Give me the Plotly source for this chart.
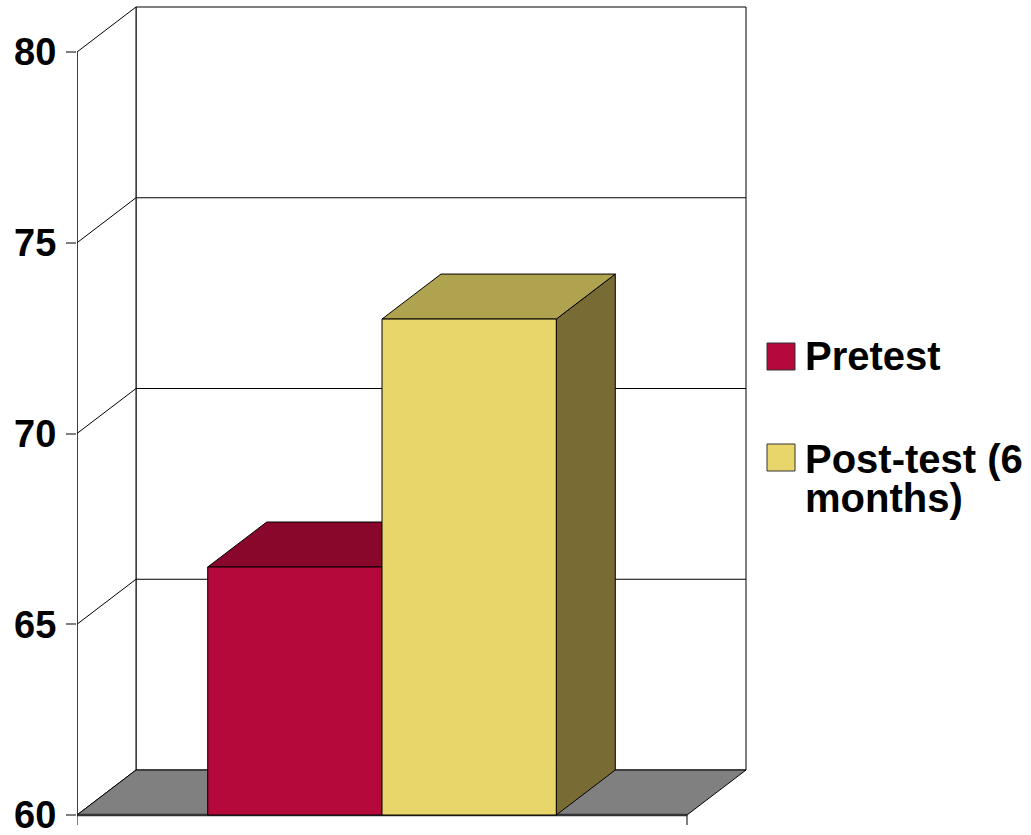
import plotly.graph_objects as go

# ---- data ----
series = ["Pretest", "Post-test (6 months)"]
legend_lines = [["Pretest"], ["Post-test (6", "months)"]]
values = [66.5, 73.0]
y_ticks = [60, 65, 70, 75, 80]
y_min, y_max = 60, 80

# ---- style ----
front_colors = ["#B4093A", "#E9D66B"]
top_colors = ["#88072A", "#B0A34F"]
side_colors = ["#5E041D", "#786C34"]
floor_color = "#808080"
gap = 1.5            # gap width (fraction of a bar width)
DX = 59 / 610        # depth offset, x units (category span = 1)
DY = 45 / 38.15      # depth offset, y units
EXT = 10 / 38.15     # small axis extension below floor

W, H = 1031, 835
ML, MR, MT, MB = 77, 271, 2, 5
PW, PH = W - ML - MR, H - MT - MB
x_range = [0, PW / 610]
y_range = [y_min - (830 - 815) / 38.15, y_min + (815 - MT) / 38.15]

traces = []


def poly(xs, ys, fill, lc="black", lw=1):
    traces.append(go.Scatter(
        x=list(xs) + [xs[0]], y=list(ys) + [ys[0]], mode="lines",
        fill="toself", fillcolor=fill, line=dict(color=lc, width=lw),
        hoverinfo="skip", showlegend=False))


def line(xs, ys, lc="black", lw=1):
    traces.append(go.Scatter(
        x=xs, y=ys, mode="lines", line=dict(color=lc, width=lw),
        hoverinfo="skip", showlegend=False))


# back wall
poly([DX, 1 + DX, 1 + DX, DX],
     [y_min + DY, y_min + DY, y_max + DY, y_max + DY], "white")
# left wall
poly([0, DX, DX, 0], [y_min, y_min + DY, y_max + DY, y_max], "white")
# gridlines (left wall diagonal + back wall horizontal)
gx, gy = [], []
for t in y_ticks[1:-1]:
    gx += [0, DX, 1 + DX, None]
    gy += [t, t + DY, t + DY, None]
line(gx, gy)
# floor
poly([0, 1, 1 + DX, DX], [y_min, y_min, y_min + DY, y_min + DY], floor_color)
line([0, 1], [y_min, y_min], "#333333", 2.5)
# front axis + end ticks
line([0, 0], [y_min - EXT, y_max])
line([1, 1], [y_min, y_min - EXT])

# bars
bar_w = 1 / (len(values) + gap)
x_start = gap / 2 * bar_w
for i, v in enumerate(values):
    xl = x_start + i * bar_w
    xr = xl + bar_w
    poly([xr, xr + DX, xr + DX, xr], [y_min, y_min + DY, v + DY, v], side_colors[i])
    poly([xl, xr, xr + DX, xl + DX], [v, v, v + DY, v + DY], top_colors[i])
    poly([xl, xr, xr, xl], [y_min, y_min, v, v], front_colors[i])

fig = go.Figure(traces)


def px2paper_x(px):
    return (px - ML) / PW


def py2paper_y(py):
    return (H - MB - py) / PH


shapes = []
annotations = []
sq_top = [343, 444]
text_centers = [356, 478]
LEG_FS = 40
for i, name in enumerate(series):
    shapes.append(dict(type="rect", xref="paper", yref="paper",
                       x0=px2paper_x(767), x1=px2paper_x(795),
                       y0=py2paper_y(sq_top[i] + 27), y1=py2paper_y(sq_top[i]),
                       fillcolor=front_colors[i], line=dict(color="#333333", width=1)))
    # text lines in one element; base size sets the (tight) line spacing
    txt = "<br>".join(f'<span style="font-size:{LEG_FS}px">{t}</span>'
                      for t in legend_lines[i])
    annotations.append(dict(text=txt, xref="paper", yref="paper",
                            x=px2paper_x(803), y=py2paper_y(text_centers[i]),
                            xanchor="left", yanchor="middle", align="left",
                            showarrow=False,
                            font=dict(family="Liberation Sans", size=30,
                                      color="black", weight="bold")))

fig.update_layout(
    width=W, height=H,
    margin=dict(l=ML, r=MR, t=MT, b=MB, autoexpand=False),
    paper_bgcolor="white", plot_bgcolor="white",
    showlegend=False,
    shapes=shapes, annotations=annotations,
    xaxis=dict(range=x_range, visible=False, fixedrange=True, automargin=False),
    yaxis=dict(range=y_range, tickvals=y_ticks, ticktext=[str(t) for t in y_ticks],
               showgrid=False, zeroline=False, showline=False, automargin=False,
               ticks="outside", ticklen=10, tickwidth=1.5, tickcolor="#808080",
               ticklabelstandoff=2, ticklabeloverflow="allow",
               tickfont=dict(family="Liberation Sans", size=38, color="black",
                             weight="bold"),
               fixedrange=True),
)

fig.write_html("out.html")
